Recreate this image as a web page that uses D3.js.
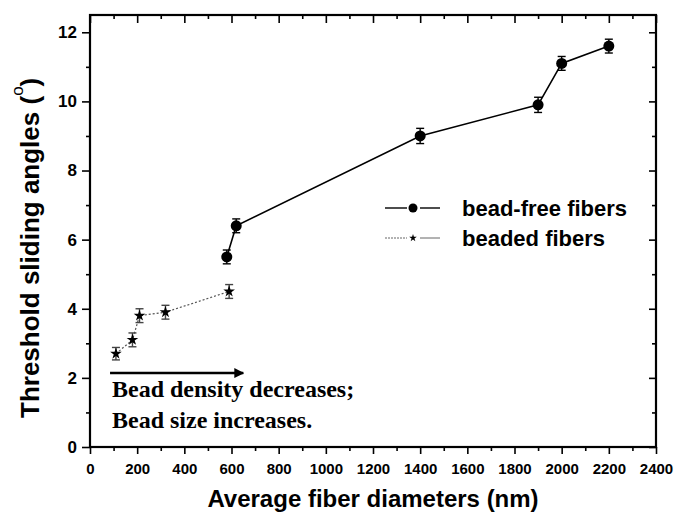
<!DOCTYPE html>
<html>
<head>
<meta charset="utf-8">
<script src="https://cdn.jsdelivr.net/npm/d3@7"></script>
<style>
  body { margin: 0; background: #fff; }
  svg { display: block; }
</style>
</head>
<body>
<svg id="grafica"></svg>
<script>
// Threshold sliding angles vs average fiber diameter

const svg_w = 677;
const svg_h = 516;

// plot frame
const margin = {l: 90, r: 21, t: 15, b: 69};

// bead-free fibers (circles)
const free_x = [580, 620, 1400, 1900, 2000, 2200];
const free_y = [5.5, 6.4, 9.0, 9.9, 11.1, 11.6];
const free_err = [0.2, 0.2, 0.22, 0.22, 0.2, 0.2];

// beaded fibers (stars)
const bead_x = [110, 180, 210, 320, 590];
const bead_y = [2.7, 3.1, 3.8, 3.9, 4.5];
const bead_err = [0.18, 0.2, 0.2, 0.2, 0.2];

// ticks
const x_major = d3.range(0, 2401, 200);
const x_minor = d3.range(100, 2400, 200);
const y_major = [0, 2, 4, 6, 8, 10, 12];
const y_minor = [1, 3, 5, 7, 9, 11];

const legend_labels = ["bead-free fibers", "beaded fibers"];
const note_lines = ["Bead density decreases;", "Bead size increases."];
// arrow of the note, in data units
const arrow_x = [85, 650];
const arrow_y = 2.14;

const sans = "'Liberation Sans', Arial, sans-serif";
const serif = "'Liberation Serif', 'Times New Roman', serif";

let svg = d3.select("#grafica")
  .attr("width", svg_w)
  .attr("height", svg_h);

let x_scale = d3.scaleLinear()
  .domain([0, 2400])
  .range([margin.l, svg_w - margin.r]);

let y_scale = d3.scaleLinear()
  .domain([0, 12.5])
  .range([svg_h - margin.b, margin.t]);

const x0 = x_scale.range()[0], x1 = x_scale.range()[1];
const y0 = y_scale.range()[0], y1 = y_scale.range()[1];

function styleAxis(g, size) {
  g.select(".domain").remove();
  g.selectAll("line").attr("stroke", "#000").attr("stroke-width", 1.6);
  g.selectAll("text")
    .attr("fill", "#000")
    .style("font-family", sans)
    .style("font-weight", "bold")
    .style("font-size", size + "px");
}

// bottom axis
svg.append("g")
  .attr("transform", `translate(0,${y0})`)
  .call(d3.axisBottom(x_scale).tickValues(x_major).tickFormat(d3.format("d")).tickSize(7).tickPadding(9))
  .call(g => styleAxis(g, 15));
svg.append("g")
  .attr("transform", `translate(0,${y0})`)
  .call(d3.axisBottom(x_scale).tickValues(x_minor).tickSize(4).tickFormat(""))
  .call(g => styleAxis(g, 15));

// left axis
svg.append("g")
  .attr("transform", `translate(${x0},0)`)
  .call(d3.axisLeft(y_scale).tickValues(y_major).tickFormat(d3.format("d")).tickSize(8).tickPadding(5))
  .call(g => styleAxis(g, 17));
svg.append("g")
  .attr("transform", `translate(${x0},0)`)
  .call(d3.axisLeft(y_scale).tickValues(y_minor).tickSize(4).tickFormat(""))
  .call(g => styleAxis(g, 17));

// top and right mirror ticks, pointing inward
svg.append("g")
  .attr("transform", `translate(0,${y1})`)
  .call(d3.axisTop(x_scale).tickValues(x_major).tickSize(-8).tickFormat(""))
  .call(g => styleAxis(g, 15));
svg.append("g")
  .attr("transform", `translate(0,${y1})`)
  .call(d3.axisTop(x_scale).tickValues(x_minor).tickSize(-4).tickFormat(""))
  .call(g => styleAxis(g, 15));
svg.append("g")
  .attr("transform", `translate(${x1},0)`)
  .call(d3.axisRight(y_scale).tickValues(y_major).tickSize(-7).tickFormat(""))
  .call(g => styleAxis(g, 15));
svg.append("g")
  .attr("transform", `translate(${x1},0)`)
  .call(d3.axisRight(y_scale).tickValues(y_minor).tickSize(-4).tickFormat(""))
  .call(g => styleAxis(g, 15));

// frame
svg.append("rect")
  .attr("x", x0).attr("y", y1)
  .attr("width", x1 - x0).attr("height", y0 - y1)
  .attr("fill", "none")
  .attr("stroke", "#000")
  .attr("stroke-width", 2.2);

// axis titles
svg.append("text")
  .attr("x", (x0 + x1) / 2)
  .attr("y", 507)
  .attr("text-anchor", "middle")
  .style("font-family", sans)
  .style("font-weight", "bold")
  .style("font-size", "24px")
  .text("Average fiber diameters (nm)");

let ytitle = svg.append("text")
  .attr("transform", "translate(39,418) rotate(-90)")
  .attr("text-anchor", "start")
  .style("font-family", sans)
  .style("font-weight", "bold")
  .style("font-size", "26px");
ytitle.append("tspan").text("Threshold sliding angles (");
ytitle.append("tspan")
  .attr("dy", -16)
  .style("font-weight", "normal")
  .style("font-size", "17px")
  .text("o");
ytitle.append("tspan").attr("dy", 16).text(")");

const free = free_x.map((d, i) => ({x: d, y: free_y[i], e: free_err[i]}));
const bead = bead_x.map((d, i) => ({x: d, y: bead_y[i], e: bead_err[i]}));

let line = d3.line().x(d => x_scale(d.x)).y(d => y_scale(d.y));

// beaded fibers: grey dotted line
svg.append("path")
  .datum(bead)
  .attr("d", line)
  .attr("fill", "none")
  .attr("stroke", "#555")
  .attr("stroke-width", 1.2)
  .attr("stroke-dasharray", "2,2");

// bead-free: black line
svg.append("path")
  .datum(free)
  .attr("d", line)
  .attr("fill", "none")
  .attr("stroke", "#000")
  .attr("stroke-width", 1.6);

function errorBars(data, color) {
  let g = svg.append("g").attr("stroke", color).attr("stroke-width", 1.4);
  g.selectAll("line.v")
    .data(data).enter().append("line")
    .attr("x1", d => x_scale(d.x)).attr("x2", d => x_scale(d.x))
    .attr("y1", d => y_scale(d.y - d.e)).attr("y2", d => y_scale(d.y + d.e));
  [-1, 1].forEach(s => {
    g.selectAll(null)
      .data(data).enter().append("line")
      .attr("x1", d => x_scale(d.x) - 4).attr("x2", d => x_scale(d.x) + 4)
      .attr("y1", d => y_scale(d.y + s * d.e)).attr("y2", d => y_scale(d.y + s * d.e));
  });
}
errorBars(bead, "#444");
errorBars(free, "#000");

svg.append("g")
  .selectAll("circle")
  .data(free).enter().append("circle")
  .attr("cx", d => x_scale(d.x))
  .attr("cy", d => y_scale(d.y))
  .attr("r", 5.5)
  .attr("fill", "#000");

let star = d3.symbol().type(d3.symbolStar).size(42);
svg.append("g")
  .selectAll("path")
  .data(bead).enter().append("path")
  .attr("d", star)
  .attr("transform", d => `translate(${x_scale(d.x)},${y_scale(d.y)})`)
  .attr("fill", "#000");

// legend
const leg_x = 385, leg_y = [208, 238];
let leg = svg.append("g");
leg_y.forEach((ly, i) => {
  leg.append("line")
    .attr("x1", leg_x).attr("x2", leg_x + 22).attr("y1", ly).attr("y2", ly)
    .attr("stroke", i == 0 ? "#000" : "#666")
    .attr("stroke-width", i == 0 ? 1.4 : 1)
    .attr("stroke-dasharray", i == 0 ? null : "2,1");
  leg.append("line")
    .attr("x1", leg_x + 35).attr("x2", leg_x + 55).attr("y1", ly).attr("y2", ly)
    .attr("stroke", i == 0 ? "#000" : "#666")
    .attr("stroke-width", i == 0 ? 1.4 : 1);
  if (i == 0) {
    leg.append("circle").attr("cx", leg_x + 28).attr("cy", ly).attr("r", 4.5).attr("fill", "#000");
  } else {
    leg.append("path")
      .attr("d", d3.symbol().type(d3.symbolStar).size(18))
      .attr("transform", `translate(${leg_x + 28},${ly})`)
      .attr("fill", "#000");
  }
  leg.append("text")
    .attr("x", 462).attr("y", ly + 8)
    .style("font-family", sans)
    .style("font-weight", "bold")
    .style("font-size", "22px")
    .text(legend_labels[i]);
});

// note with arrow
svg.append("defs").append("marker")
  .attr("id", "arrowhead")
  .attr("viewBox", "0 0 10 10")
  .attr("refX", 9).attr("refY", 5)
  .attr("markerWidth", 4).attr("markerHeight", 4)
  .attr("orient", "auto")
  .append("path")
  .attr("d", "M0,0L10,5L0,10Z")
  .attr("fill", "#000");

svg.append("line")
  .attr("x1", x_scale(arrow_x[0])).attr("x2", x_scale(arrow_x[1]))
  .attr("y1", y_scale(arrow_y)).attr("y2", y_scale(arrow_y))
  .attr("stroke", "#000")
  .attr("stroke-width", 2.5)
  .attr("marker-end", "url(#arrowhead)");

svg.append("g")
  .selectAll("text")
  .data(note_lines).enter().append("text")
  .attr("x", 112)
  .attr("y", (d, i) => 397 + i * 31)
  .style("font-family", serif)
  .style("font-weight", "bold")
  .style("font-size", "24px")
  .text(d => d);
</script>
</body>
</html>
